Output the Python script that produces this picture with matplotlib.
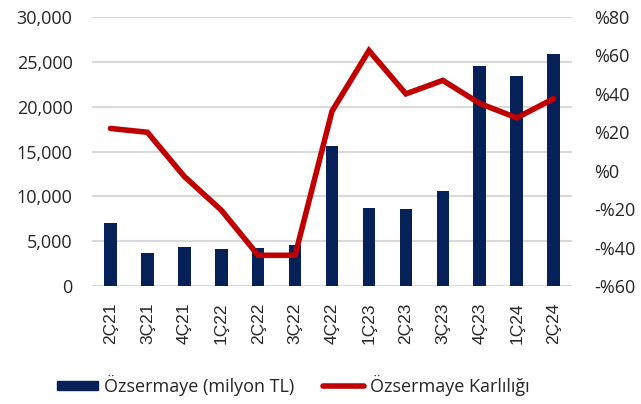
import matplotlib
matplotlib.use("Agg")
from matplotlib import pyplot as plt
from matplotlib.patches import Patch
from matplotlib.lines import Line2D
import numpy as np

# veriler
donemler = ["2Ç21", "3Ç21", "4Ç21", "1Ç22", "2Ç22", "3Ç22", "4Ç22",
            "1Ç23", "2Ç23", "3Ç23", "4Ç23", "1Ç24", "2Ç24"]
ozsermaye = [7000, 3700, 4350, 4150, 4200, 4550, 15650,
             8750, 8550, 10550, 24500, 23400, 25900]
karlilik = [22, 20, -3, -20.5, -44, -44, 31,
            62.5, 40, 47, 35, 27.5, 37.5]

lacivert = "#052157"
kirmizi = "#C00000"
yazi = "#262626"
font_ana = ["Open Sans", "DejaVu Sans"]

fig = plt.figure(figsize=(6.41, 4.04), dpi=100)
ax = fig.add_axes([0.1435, 0.292, 0.749, 0.666])
ax2 = ax.twinx()

x = np.arange(len(donemler))
ax.bar(x, ozsermaye, width=0.34, color=lacivert, zorder=2)
ax.set_ylim(0, 30000)
ax.set_yticks(range(0, 30001, 5000))
ax.set_yticklabels([f"{v:,}" for v in range(0, 30001, 5000)],
                   fontsize=13, color=yazi, family=font_ana)
ax.set_xlim(-0.5, len(donemler) - 0.5)
ax.set_xticks(x)
ax.set_xticklabels(donemler, rotation=90, fontsize=12.5, color=yazi,
                   family=["Liberation Sans", "DejaVu Sans"])
ax.grid(axis="y", color="#D9D9D9", linewidth=1.5, zorder=0)
ax.tick_params(axis="both", length=0)
ax.tick_params(axis="y", pad=14)
ax.tick_params(axis="x", pad=12)

ax2.plot(x, karlilik, color=kirmizi, linewidth=4, solid_capstyle="round",
         solid_joinstyle="miter", zorder=3)
ax2.set_ylim(-60, 80)
sag_tick = list(range(-60, 81, 20))
ax2.set_yticks(sag_tick)
ax2.set_yticklabels([f"%{v}" if v >= 0 else f"-%{-v}" for v in sag_tick],
                    fontsize=13, color=yazi, family=font_ana)
ax2.tick_params(axis="y", length=0, pad=16)

for a in (ax, ax2):
    for s in a.spines.values():
        s.set_visible(False)

handles = [Patch(color=lacivert), Line2D([], [], color=kirmizi, linewidth=4, solid_capstyle="round")]
fig.legend(handles, ["Özsermaye (milyon TL)", "Özsermaye Karlılığı"],
           loc="center", bbox_to_anchor=(0.457, 0.047), ncol=2, frameon=False,
           prop={"family": font_ana, "size": 13}, handlelength=2.3,
           handleheight=0.4, handletextpad=0.3, columnspacing=1.6,
           labelcolor=yazi)

fig.savefig("out.png", dpi=100)
